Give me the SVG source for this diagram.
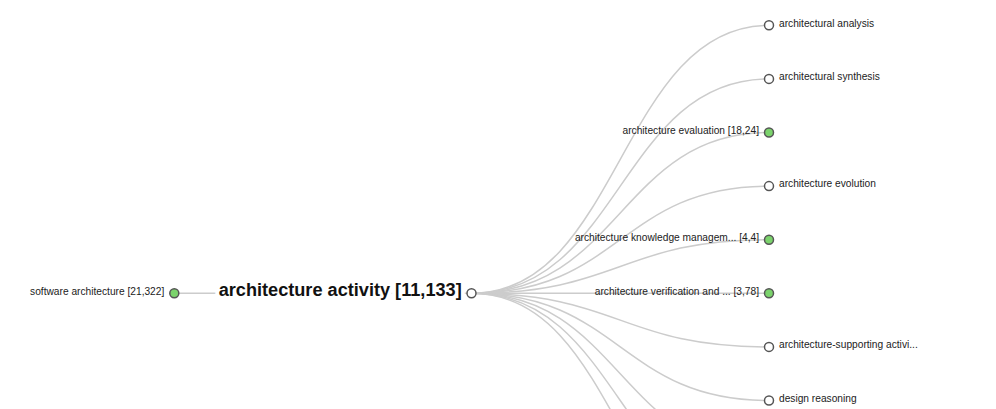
<svg xmlns="http://www.w3.org/2000/svg" width="996" height="409" viewBox="0 0 996 409">
<style>
.link{fill:none;stroke:#cccccc;stroke-width:1.5}
.node circle{stroke:#555555;stroke-width:1.5}
.leaf circle{fill:#ffffff}
.inner circle{fill:#7bd36c}
.node text{font-family:"Liberation Sans",Arial,sans-serif;font-size:10.2px;fill:#222222}
.left text{text-anchor:end}
.root text{font-size:18.15px;font-weight:bold;fill:#111111;stroke:#ffffff;stroke-width:8;stroke-linejoin:round;paint-order:stroke}
</style>
<rect width="996" height="409" fill="#ffffff"/>
<g id="links">
<path class="link" d="M174.3,293.3 L471.5,293.3"/>
<path class="link" d="M471.5,293.3 C620.25,293.3 620.25,25.3 769,25.3"/>
<path class="link" d="M471.5,293.3 C620.25,293.3 620.25,78.9 769,78.9"/>
<path class="link" d="M471.5,293.3 C620.25,293.3 620.25,132.5 769,132.5"/>
<path class="link" d="M471.5,293.3 C620.25,293.3 620.25,186.1 769,186.1"/>
<path class="link" d="M471.5,293.3 C620.25,293.3 620.25,239.7 769,239.7"/>
<path class="link" d="M471.5,293.3 C620.25,293.3 620.25,293.3 769,293.3"/>
<path class="link" d="M471.5,293.3 C620.25,293.3 620.25,346.9 769,346.9"/>
<path class="link" d="M471.5,293.3 C620.25,293.3 620.25,400.5 769,400.5"/>
<path class="link" d="M471.5,293.3 C620.25,293.3 620.25,454.1 769,454.1"/>
<path class="link" d="M471.5,293.3 C620.25,293.3 620.25,507.7 769,507.7"/>
<path class="link" d="M471.5,293.3 C620.25,293.3 620.25,561.3 769,561.3"/>
</g>
<g id="node-software-architecture" class="node inner left"><circle cx="174.3" cy="293.3" r="4.5"/><text x="164.3" y="294.8">software architecture [21,322]</text></g>
<g id="node-architecture-activity" class="node leaf left root"><circle cx="471.5" cy="293.3" r="4.5"/><text x="461.7" y="295.8">architecture activity [11,133]</text></g>
<g id="node-architectural-analysis" class="node leaf"><circle cx="769" cy="25.3" r="4.5"/><text x="779" y="26.6">architectural analysis</text></g>
<g id="node-architectural-synthesis" class="node leaf"><circle cx="769" cy="78.9" r="4.5"/><text x="779" y="80.2">architectural synthesis</text></g>
<g id="node-architecture-evaluation" class="node inner left"><circle cx="769" cy="132.5" r="4.5"/><text x="759" y="133.8">architecture evaluation [18,24]</text></g>
<g id="node-architecture-evolution" class="node leaf"><circle cx="769" cy="186.1" r="4.5"/><text x="779" y="187.4">architecture evolution</text></g>
<g id="node-architecture-knowledge" class="node inner left"><circle cx="769" cy="239.7" r="4.5"/><text x="759" y="241">architecture knowledge managem... [4,4]</text></g>
<g id="node-architecture-verification" class="node inner left"><circle cx="769" cy="293.3" r="4.5"/><text x="759" y="294.6">architecture verification and ... [3,78]</text></g>
<g id="node-architecture-supporting" class="node leaf"><circle cx="769" cy="346.9" r="4.5"/><text x="779" y="348.2">architecture-supporting activi...</text></g>
<g id="node-design-reasoning" class="node leaf"><circle cx="769" cy="400.5" r="4.5"/><text x="779" y="401.8">design reasoning</text></g>
</svg>
